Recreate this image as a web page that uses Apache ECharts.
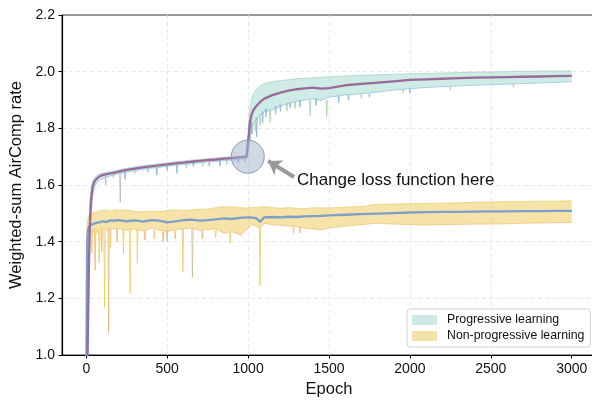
<!DOCTYPE html>
<html>
<head>
<meta charset="utf-8">
<script src="https://cdn.jsdelivr.net/npm/echarts@6/dist/echarts.min.js"></script>
<style>
  html, body { margin: 0; padding: 0; background: #fff; }
  #chart { width: 592px; height: 401px; }
</style>
</head>
<body>
<div id="chart"></div>
<script>
// epochs where the curves are sampled
const EP = [0, 5, 10, 15, 20, 25, 30, 40, 50, 60, 70, 80, 90, 100, 125, 150, 175, 200, 250, 300,
  350, 400, 450, 500, 550, 600, 650, 700, 750, 800, 850, 900, 950, 990, 1000, 1005, 1010, 1020, 1030, 1050,
  1075, 1100, 1150, 1200, 1250, 1300, 1350, 1400, 1450, 1500, 1600, 1700, 1800, 1900, 2000, 2100, 2200, 2300, 2400, 2500,
  2600, 2700, 2800, 2900, 3000]

// progressive learning: mean, band upper, band lower
const pMean = [0.70, 0.90, 1.08, 1.28, 1.42, 1.50, 1.55, 1.595, 1.612, 1.620, 1.626, 1.630, 1.633, 1.635, 1.638, 1.641, 1.644, 1.647, 1.653, 1.658,
  1.662, 1.666, 1.669, 1.673, 1.676, 1.679, 1.682, 1.685, 1.688, 1.690, 1.693, 1.695, 1.698, 1.700, 1.701, 1.78, 1.815, 1.845, 1.862, 1.878,
  1.893, 1.905, 1.917, 1.926, 1.933, 1.938, 1.941, 1.944, 1.940, 1.942, 1.952, 1.957, 1.961, 1.966, 1.971, 1.973, 1.975, 1.977, 1.979, 1.980,
  1.981, 1.982, 1.983, 1.984, 1.985]
const pUp = [0.80, 1.00, 1.20, 1.40, 1.50, 1.56, 1.59, 1.615, 1.625, 1.632, 1.636, 1.639, 1.641, 1.643, 1.645, 1.648, 1.650, 1.653, 1.659, 1.664,
  1.668, 1.672, 1.675, 1.678, 1.682, 1.685, 1.688, 1.690, 1.693, 1.695, 1.698, 1.700, 1.702, 1.704, 1.705, 1.83, 1.87, 1.90, 1.92, 1.937,
  1.950, 1.958, 1.965, 1.968, 1.972, 1.975, 1.977, 1.978, 1.980, 1.982, 1.985, 1.987, 1.989, 1.991, 1.993, 1.994, 1.995, 1.997, 1.998, 1.999,
  2.000, 2.001, 2.002, 2.002, 2.003]
const pLo = [0.65, 0.82, 0.98, 1.18, 1.33, 1.43, 1.50, 1.56, 1.59, 1.603, 1.611, 1.616, 1.620, 1.623, 1.628, 1.632, 1.636, 1.640, 1.645, 1.650,
  1.655, 1.659, 1.662, 1.666, 1.669, 1.672, 1.675, 1.678, 1.681, 1.683, 1.686, 1.688, 1.691, 1.693, 1.694, 1.72, 1.76, 1.80, 1.815, 1.83,
  1.845, 1.858, 1.865, 1.878, 1.888, 1.895, 1.900, 1.905, 1.898, 1.910, 1.918, 1.922, 1.928, 1.935, 1.940, 1.944, 1.947, 1.950, 1.952, 1.954,
  1.956, 1.958, 1.960, 1.962, 1.965]

// non-progressive learning: mean, band upper, band lower
const nMean = [0.90, 1.40, 1.44, 1.45, 1.455, 1.458, 1.46, 1.462, 1.464, 1.466, 1.462, 1.468, 1.47, 1.472, 1.47, 1.475, 1.474, 1.476, 1.472, 1.475,
  1.471, 1.476, 1.474, 1.468, 1.472, 1.476, 1.478, 1.474, 1.476, 1.479, 1.482, 1.480, 1.484, 1.486, 1.486, 1.486, 1.487, 1.485, 1.486, 1.483,
  1.470, 1.486, 1.487, 1.486, 1.488, 1.487, 1.489, 1.490, 1.491, 1.493, 1.495, 1.497, 1.499, 1.501, 1.503, 1.504, 1.505, 1.505, 1.506, 1.507,
  1.507, 1.508, 1.508, 1.509, 1.509]
const nUp = [1.00, 1.46, 1.48, 1.49, 1.495, 1.498, 1.50, 1.505, 1.506, 1.50, 1.508, 1.505, 1.51, 1.507, 1.512, 1.508, 1.513, 1.51, 1.512, 1.507,
  1.505, 1.508, 1.506, 1.51, 1.512, 1.509, 1.512, 1.515, 1.514, 1.52, 1.523, 1.523, 1.52, 1.518, 1.519, 1.52, 1.518, 1.522, 1.52, 1.52,
  1.523, 1.523, 1.52, 1.518, 1.52, 1.518, 1.516, 1.52, 1.519, 1.519, 1.522, 1.524, 1.532, 1.533, 1.534, 1.535, 1.536, 1.537, 1.539, 1.540,
  1.541, 1.542, 1.543, 1.543, 1.544]
const nLo = [0.80, 1.30, 1.41, 1.42, 1.425, 1.43, 1.432, 1.435, 1.44, 1.445, 1.43, 1.44, 1.445, 1.447, 1.44, 1.448, 1.445, 1.447, 1.44, 1.445,
  1.438, 1.447, 1.441, 1.436, 1.442, 1.446, 1.447, 1.44, 1.443, 1.445, 1.43, 1.435, 1.424, 1.44, 1.447, 1.45, 1.455, 1.46, 1.458, 1.455,
  1.445, 1.465, 1.46, 1.458, 1.455, 1.453, 1.448, 1.445, 1.441, 1.448, 1.455, 1.46, 1.465, 1.462, 1.46, 1.459, 1.46, 1.461, 1.462, 1.462,
  1.463, 1.465, 1.466, 1.467, 1.468]

// downward spikes of single runs: [epoch, level, low]
const pSpikesGray = [[120, 1.637, 1.60], [210, 1.645, 1.54], [1015, 1.83, 1.76]]
const pSpikesBlue = [[240, 1.648, 1.62], [380, 1.658, 1.645], [436, 1.662, 1.635], [500, 1.666, 1.652], [560, 1.672, 1.641],
  [662, 1.678, 1.665], [760, 1.681, 1.668], [827, 1.688, 1.667], [940, 1.69, 1.678], [1025, 1.82, 1.78], [1053, 1.84, 1.77],
  [1090, 1.86, 1.82], [1110, 1.87, 1.84], [1170, 1.88, 1.85], [1200, 1.885, 1.86], [1259, 1.89, 1.872], [1320, 1.90, 1.875],
  [1420, 1.905, 1.88], [1560, 1.915, 1.89], [1620, 1.918, 1.90], [1750, 1.922, 1.91], [2000, 1.94, 1.925]]
const pSpikesGreen = [[168, 1.638, 1.625], [300, 1.652, 1.64], [620, 1.673, 1.66], [720, 1.679, 1.667], [868, 1.69, 1.672],
  [980, 1.692, 1.68], [1045, 1.83, 1.79], [1075, 1.85, 1.81], [1136, 1.865, 1.823], [1240, 1.89, 1.86], [1290, 1.895, 1.87],
  [1383, 1.90, 1.845], [1486, 1.90, 1.841], [1700, 1.922, 1.905], [1959, 1.938, 1.925], [2250, 1.947, 1.935], [2640, 1.956, 1.945]]
const nSpikesYellow = [[35, 1.44, 1.36], [80, 1.44, 1.325], [113, 1.44, 1.168], [150, 1.445, 1.38], [230, 1.445, 1.36],
  [271, 1.44, 1.218], [316, 1.445, 1.325], [420, 1.44, 1.41], [597, 1.445, 1.294], [800, 1.44, 1.415], [889, 1.435, 1.394],
  [1074, 1.445, 1.247], [1280, 1.45, 1.43]]
const nSpikesOrange = [[55, 1.44, 1.30], [96, 1.445, 1.365], [138, 1.445, 1.079], [190, 1.445, 1.40], [362, 1.44, 1.406],
  [475, 1.436, 1.40], [550, 1.44, 1.41], [717, 1.44, 1.41], [1320, 1.45, 1.43]]
const nSpikesGray = [[500, 1.44, 1.40], [656, 1.446, 1.274], [960, 1.424, 1.418]]

const xTicks = [0, 500, 1000, 1500, 2000, 2500, 3000]

const pairs = ys => EP.map((e, i) => [e, ys[i]])
const spikes = list => {
    const out = []
    list.forEach(([e, top, low]) => {
        out.push([e - 4, top], [e, low], [e + 4, top], [e + 5, '-'])
    })
    return out
}

const FONT = 'Liberation Sans, Arial, Helvetica, sans-serif'

const thin = (data, color, opacity, width) => ({
    type: 'line', data: data, symbol: 'none', silent: true,
    lineStyle: { color: color, width: width || 1, opacity: opacity }
})

// shaded band between lo and up, drawn as a polygon through the axes
const band = (name, up, lo, fill) => ({
    name: name,
    type: 'custom',
    silent: true,
    clip: true,
    itemStyle: { color: fill },
    data: [[0, 1.5]],
    renderItem: (params, api) => {
        const pts = []
        EP.forEach((e, i) => pts.push(api.coord([e, up[i]])))
        for (let i = EP.length - 1; i >= 0; i--) pts.push(api.coord([EP[i], lo[i]]))
        const cs = params.coordSys
        const clipped = echarts.graphic.clipPointsByRect(pts, { x: cs.x, y: cs.y, width: cs.width, height: cs.height })
        return { type: 'polygon', shape: { points: clipped }, style: { fill: fill } }
    }
})

const gridLine = { type: [4, 3], color: '#e2e2e2', width: 0.8 }

const chart = echarts.init(document.getElementById('chart'))
chart.setOption({
    animation: false,
    textStyle: { fontFamily: FONT },
    grid: {
        left: 62, right: -4, top: 15, bottom: 46,
        show: true, borderColor: '#333', borderWidth: 1,
        outerBoundsMode: 'none'
    },
    legend: {
        left: 407, top: 309,
        orient: 'vertical',
        padding: [5, 6, 5, 5],
        itemWidth: 25, itemHeight: 10, itemGap: 4,
        backgroundColor: 'rgba(255,255,255,0.85)',
        borderColor: '#d0d0d0', borderWidth: 1, borderRadius: 3,
        textStyle: { fontSize: 12.3, color: '#111', fontFamily: FONT, padding: [0, 0, 0, 5] },
        data: [
            { name: 'Progressive learning', icon: 'rect', itemStyle: { color: '#cfeae5', borderWidth: 0 } },
            { name: 'Non-progressive learning', icon: 'rect', itemStyle: { color: '#f5e2a6', borderWidth: 0 } }
        ]
    },
    xAxis: {
        type: 'value', min: -150, max: 3150,
        name: 'Epoch', nameLocation: 'middle', nameGap: 25,
        nameTextStyle: { fontSize: 16.5, color: '#111', fontFamily: FONT },
        axisLine: { onZero: false, lineStyle: { color: '#000', width: 1.2 } },
        axisTick: { show: true, length: 3.5, customValues: xTicks, lineStyle: { color: '#000' } },
        axisLabel: { customValues: xTicks, fontSize: 14, color: '#111', margin: 7, fontFamily: FONT, formatter: v => String(v) },
        splitLine: { show: true, showMinLine: false, showMaxLine: false, lineStyle: gridLine }
    },
    yAxis: {
        type: 'value', min: 1.0, max: 2.2, interval: 0.2,
        name: 'Weighted-sum AirComp rate', nameLocation: 'middle', nameGap: 31,
        nameTextStyle: { fontSize: 16.5, color: '#111', fontFamily: FONT },
        axisLine: { show: true, onZero: false, lineStyle: { color: '#000', width: 1.2 } },
        axisTick: { show: true, length: 3.5, lineStyle: { color: '#000' } },
        axisLabel: { fontSize: 14, color: '#111', margin: 7, fontFamily: FONT, formatter: v => v.toFixed(1) },
        splitLine: { show: true, showMinLine: false, showMaxLine: false, lineStyle: gridLine }
    },
    series: [
        // non-progressive band and runs
        band('Non-progressive learning', nUp, nLo, 'rgba(238,200,80,0.5)'),
        thin(pairs(nLo), '#f0b870', 0.8, 0.8),
        thin(pairs(nUp), '#e6cd70', 0.9, 0.8),
        thin(spikes(nSpikesYellow), '#e8cc5a', 0.8),
        thin(spikes(nSpikesOrange), '#f2b36b', 0.8),
        thin(spikes(nSpikesGray), '#c9b99a', 0.8),
        // progressive band and runs
        band('Progressive learning', pUp, pLo, 'rgba(160,215,205,0.5)'),
        thin(pairs(pLo), '#86b9dc', 0.8, 0.8),
        thin(pairs(pUp), '#a9cfc8', 0.9, 0.8),
        thin(spikes(pSpikesGray), '#b5b5b5', 0.8),
        thin(spikes(pSpikesBlue), '#7fb2da', 0.8),
        thin(spikes(pSpikesGreen), '#a3d39c', 0.8),
        // means
        {
            type: 'line', data: pairs(nMean), symbol: 'none', silent: true,
            lineStyle: { color: '#7d9fca', width: 2.3 }
        },
        {
            type: 'line', data: pairs(pMean), symbol: 'none', silent: true,
            lineStyle: { color: '#9a6a9c', width: 2.3 },
            markPoint: {
                silent: true,
                data: [
                    {
                        coord: [998, 1.70], symbol: 'circle', symbolSize: 33,
                        itemStyle: { color: 'rgba(160,180,205,0.5)', borderColor: '#8698b3', borderWidth: 1 },
                        label: { show: false }
                    },
                    {
                        coord: [1302, 1.617], symbol: 'circle', symbolSize: 0,
                        label: {
                            show: true, position: 'right', distance: 0,
                            formatter: 'Change loss function here',
                            fontSize: 17, color: '#111', fontFamily: FONT
                        }
                    }
                ]
            },
            markLine: {
                silent: true,
                symbol: ['none', 'arrow'], symbolSize: 13,
                label: { show: false },
                lineStyle: { color: '#999', width: 4, type: 'solid' },
                data: [[{ coord: [1284, 1.628] }, { coord: [1123, 1.685] }]]
            }
        }
    ]
})
</script>
</body>
</html>
